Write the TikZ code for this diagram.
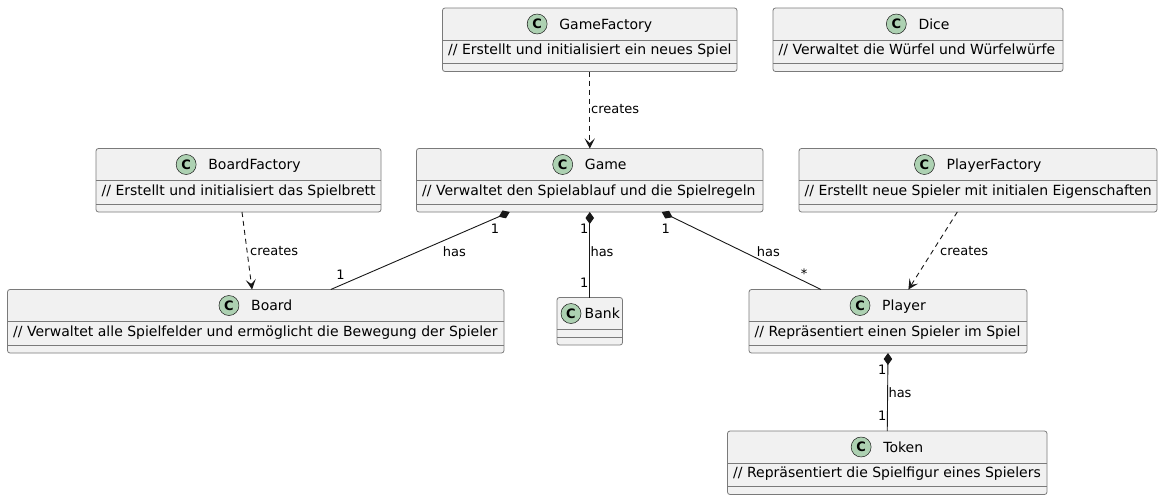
\documentclass[tikz,border=0pt]{standalone}
\usepackage{fontspec}
\setmainfont{DejaVu Sans}
\usetikzlibrary{arrows.meta,calc}
\definecolor{boxfill}{HTML}{F1F1F1}
\definecolor{lineclr}{HTML}{181818}
\definecolor{boxline}{HTML}{7A7A7A}
\definecolor{circfill}{HTML}{ADD1B2}
\tikzset{
  classbox/.style={draw=boxline, line width=0.8pt, fill=boxfill, rounded corners=2.5pt, inner sep=0pt, outer sep=0pt},
  sepline/.style={draw=boxline, line width=0.8pt},
  titletext/.style={inner sep=0pt, anchor=base, font=\fontsize{14}{16}\selectfont, text=black},
  membertext/.style={inner sep=0pt, anchor=base west, font=\fontsize{14}{16}\selectfont, text=black},
  cbadge/.style={circle, draw=lineclr, line width=0.5pt, fill=circfill, minimum size=20pt, inner sep=0pt, font=\bfseries\fontsize{13}{13}\selectfont},
  lbl/.style={inner sep=0pt, font=\fontsize{13}{15}\selectfont, text=black},
  dep/.style={draw=lineclr, line width=0.9pt, dash pattern=on 5pt off 4pt, -{Stealth[length=10pt,width=10pt,inset=4.5pt]}},
  comp/.style={draw=lineclr, line width=0.9pt, {Diamond[length=12pt,width=8.5pt]}-},
}
% id, x1, y1, x2, y2, title, member
\newcommand\umlclass[7]{%
  \node[classbox, minimum width={(#4-#2)*1pt}, minimum height={(#5-#3)*1pt}] (#1) at ({(#2+#4)/2},{(#3+#5)/2}) {};
  \draw[sepline] (#2,#3+32) -- (#4,#3+32);
  \draw[sepline] (#2,#5-8) -- (#4,#5-8);
  \node[titletext] (#1-t) at ({(#2+#4)/2},#3+21) {\hspace*{32pt}#6};
  \node[cbadge] (#1-c) at ($(#1-t.base west)+(10pt,5pt)$) {C};
  \node[membertext] (#1-m) at (#2+5.5,#3+46.5) {#7};
}
\begin{document}
\begin{tikzpicture}[x=1pt,y=-1pt]
\useasboundingbox[fill=white] (0,0) rectangle (1163,501);

\umlclass{gamefactory}{442.5}{8}{737}{71.5}{GameFactory}{// Erstellt und initialisiert ein neues Spiel}
\umlclass{dice}{773}{8}{1063}{71.5}{Dice}{// Verwaltet die Würfel und Würfelwürfe}
\umlclass{boardfactory}{96}{148.5}{381}{212}{BoardFactory}{// Erstellt und initialisiert das Spielbrett}
\umlclass{game}{416.5}{148.5}{763}{212}{Game}{// Verwaltet den Spielablauf und die Spielregeln}
\umlclass{playerfactory}{799}{148.5}{1157}{212}{PlayerFactory}{// Erstellt neue Spieler mit initialen Eigenschaften}
\umlclass{board}{7.5}{289.5}{504}{353}{Board}{// Verwaltet alle Spielfelder und ermöglicht die Bewegung der Spieler}
\umlclass{player}{749}{289.5}{1027}{353}{Player}{// Repräsentiert einen Spieler im Spiel}
\umlclass{token}{727.5}{431}{1047}{494.5}{Token}{// Repräsentiert die Spielfigur eines Spielers}

% Bank (no members)
\node[classbox, minimum width=65.5pt, minimum height=47.5pt] (bank) at (589.75,321.25) {};
\draw[sepline] (557,329.5) -- (622.5,329.5);
\draw[sepline] (557,337) -- (622.5,337);
\node[cbadge] (bank-c) at (571,313.5) {C};
\node[titletext, anchor=base west] (bank-t) at (584.5,318.5) {Bank};

% dependencies
\draw[dep] (gamefactory.south) -- (game.north);
\node[lbl, anchor=west] (l1) at (591,109.5) {creates};
\draw[dep] ([xshift=3.5pt]boardfactory.south) -- ([xshift=-3.7pt]board.north);
\node[lbl, anchor=west] (l2) at (250,251.5) {creates};
\draw[dep] ([xshift=-20.7pt]playerfactory.south) -- ([xshift=20.4pt]player.north);
\node[lbl, anchor=west] (l3) at (940,251.5) {creates};

% compositions
\draw[comp] ([xshift=-80pt]game.south) -- ([xshift=75pt]board.north);
\node[lbl] (m1) at (495,229) {1};
\node[lbl] (m2) at (454.3,251.5) {has};
\node[lbl] (m3) at (340.5,275) {1};

\draw[comp] (game.south) -- (bank.north);
\node[lbl] (m4) at (584.3,229) {1};
\node[lbl] (m5) at (602,251.5) {has};
\node[lbl] (m6) at (584.3,283) {1};

\draw[comp] ([xshift=72pt]game.south) -- ([xshift=-67pt]player.north);
\node[lbl] (m7) at (665.7,229) {1};
\node[lbl] (m8) at (768.3,251.5) {has};
\node[lbl] (m9) at (804,274) {*};

\draw[comp] (player.south) -- (token.north);
\node[lbl] (m10) at (882.3,369.5) {1};
\node[lbl] (m11) at (900,392.5) {has};
\node[lbl] (m12) at (882.3,416) {1};
\end{tikzpicture}
\end{document}
